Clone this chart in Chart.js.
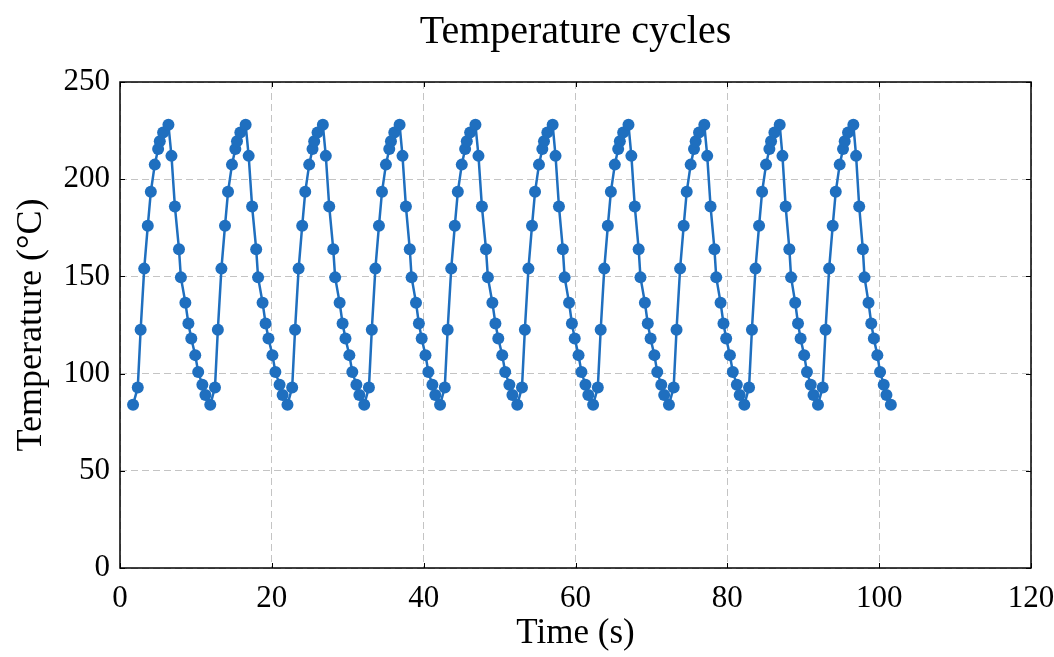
<!DOCTYPE html>
<html>
<head>
<meta charset="utf-8">
<title>Temperature cycles</title>
<script src="https://cdn.jsdelivr.net/npm/chart.js@4.4.1/dist/chart.umd.min.js"></script>
<style>
    html, body { margin: 0; padding: 0; background: #ffffff; }
    #wrap { width: 1054px; height: 657px; }
</style>
</head>
<body>
<div id="wrap"><canvas id="tempChart" width="1054" height="657"></canvas></div>
<script>
// sample times (s), one row per heating cycle
const timeS = [
    1.72, 2.34, 2.72, 3.19, 3.66, 4.06, 4.58, 5.02, 5.24, 5.68, 6.38, 6.78, 7.23, 7.77, 8.02, 8.61, 9.01, 9.39, 9.91, 10.3, 10.85, 11.25,
    11.89, 12.51, 12.89, 13.36, 13.83, 14.23, 14.75, 15.19, 15.41, 15.85, 16.55, 16.95, 17.4, 17.94, 18.19, 18.78, 19.18, 19.56, 20.08, 20.47, 21.02, 21.42,
    22.06, 22.68, 23.06, 23.53, 24.0, 24.4, 24.92, 25.36, 25.58, 26.02, 26.72, 27.11, 27.56, 28.09, 28.34, 28.93, 29.32, 29.7, 30.21, 30.6, 31.14, 31.53,
    32.17, 32.79, 33.17, 33.64, 34.11, 34.51, 35.03, 35.47, 35.69, 36.13, 36.83, 37.21, 37.66, 38.17, 38.41, 38.99, 39.37, 39.74, 40.24, 40.62, 41.15, 41.53,
    42.16, 42.78, 43.16, 43.63, 44.1, 44.5, 45.02, 45.46, 45.68, 46.12, 46.82, 47.22, 47.67, 48.21, 48.46, 49.05, 49.45, 49.83, 50.35, 50.74, 51.29, 51.69,
    52.33, 52.95, 53.33, 53.8, 54.27, 54.67, 55.19, 55.63, 55.85, 56.29, 56.99, 57.37, 57.82, 58.33, 58.57, 59.15, 59.53, 59.9, 60.4, 60.78, 61.31, 61.69,
    62.32, 62.94, 63.32, 63.79, 64.26, 64.66, 65.18, 65.62, 65.84, 66.28, 66.98, 67.36, 67.81, 68.32, 68.56, 69.14, 69.52, 69.89, 70.39, 70.77, 71.3, 71.68,
    72.31, 72.93, 73.31, 73.78, 74.25, 74.65, 75.17, 75.61, 75.83, 76.27, 76.97, 77.35, 77.79, 78.3, 78.54, 79.11, 79.49, 79.85, 80.34, 80.72, 81.25, 81.63,
    82.24, 82.86, 83.24, 83.71, 84.18, 84.58, 85.1, 85.54, 85.76, 86.2, 86.9, 87.26, 87.68, 88.17, 88.4, 88.94, 89.31, 89.65, 90.12, 90.49, 90.99, 91.35,
    91.94, 92.56, 92.94, 93.41, 93.88, 94.28, 94.8, 95.24, 95.46, 95.9, 96.6, 96.96, 97.37, 97.85, 98.07, 98.6, 98.96, 99.3, 99.76, 100.12, 100.6, 100.96,
    101.54
];

// measured temperature (°C) at each sample
const tempC = [
    84, 92.8, 122.6, 154, 176, 193.5, 207.5, 215.5, 219.5, 224, 228, 212, 186, 164, 149.5, 136.5, 125.8, 118, 109.5, 100.8, 94.3, 89,
    84, 92.8, 122.6, 154, 176, 193.5, 207.5, 215.5, 219.5, 224, 228, 212, 186, 164, 149.5, 136.5, 125.8, 118, 109.5, 100.8, 94.3, 89,
    84, 92.8, 122.6, 154, 176, 193.5, 207.5, 215.5, 219.5, 224, 228, 212, 186, 164, 149.5, 136.5, 125.8, 118, 109.5, 100.8, 94.3, 89,
    84, 92.8, 122.6, 154, 176, 193.5, 207.5, 215.5, 219.5, 224, 228, 212, 186, 164, 149.5, 136.5, 125.8, 118, 109.5, 100.8, 94.3, 89,
    84, 92.8, 122.6, 154, 176, 193.5, 207.5, 215.5, 219.5, 224, 228, 212, 186, 164, 149.5, 136.5, 125.8, 118, 109.5, 100.8, 94.3, 89,
    84, 92.8, 122.6, 154, 176, 193.5, 207.5, 215.5, 219.5, 224, 228, 212, 186, 164, 149.5, 136.5, 125.8, 118, 109.5, 100.8, 94.3, 89,
    84, 92.8, 122.6, 154, 176, 193.5, 207.5, 215.5, 219.5, 224, 228, 212, 186, 164, 149.5, 136.5, 125.8, 118, 109.5, 100.8, 94.3, 89,
    84, 92.8, 122.6, 154, 176, 193.5, 207.5, 215.5, 219.5, 224, 228, 212, 186, 164, 149.5, 136.5, 125.8, 118, 109.5, 100.8, 94.3, 89,
    84, 92.8, 122.6, 154, 176, 193.5, 207.5, 215.5, 219.5, 224, 228, 212, 186, 164, 149.5, 136.5, 125.8, 118, 109.5, 100.8, 94.3, 89,
    84, 92.8, 122.6, 154, 176, 193.5, 207.5, 215.5, 219.5, 224, 228, 212, 186, 164, 149.5, 136.5, 125.8, 118, 109.5, 100.8, 94.3, 89,
    84
];

// axis ranges and tick steps
const xRange = [0, 120];
const xStep = 20;
const yRange = [0, 250];
const yStep = 50;

const serif = "'Liberation Serif', 'Times New Roman', serif";
const lineBlue = '#1f6fbf';

// frame around the plot area plus short inward tick marks
const frameAndTicks = {
    id: 'frameAndTicks',
    beforeDatasetsDraw(chart) {
        const { ctx, chartArea: a, scales } = chart;
        ctx.save();
        ctx.strokeStyle = '#000000';
        ctx.lineWidth = 1;
        ctx.beginPath();
        scales.x.ticks.forEach(t => {
            const px = Math.round(scales.x.getPixelForValue(t.value)) + 0.5;
            ctx.moveTo(px, a.bottom);
            ctx.lineTo(px, a.bottom - 5);
            ctx.moveTo(px, a.top);
            ctx.lineTo(px, a.top + 5);
        });
        scales.y.ticks.forEach(t => {
            const py = Math.round(scales.y.getPixelForValue(t.value)) + 0.5;
            ctx.moveTo(a.left, py);
            ctx.lineTo(a.left + 5, py);
            ctx.moveTo(a.right, py);
            ctx.lineTo(a.right - 5, py);
        });
        ctx.stroke();
        ctx.lineWidth = 1.5;
        ctx.strokeRect(a.left, a.top, a.right - a.left, a.bottom - a.top);
        ctx.restore();
    }
};

document.addEventListener('DOMContentLoaded', function () {
    const canvas = document.getElementById('tempChart');
    const ctx = canvas.getContext('2d');

    const points = timeS.map((t, i) => ({ x: t, y: tempC[i] }));

    new Chart(ctx, {
        type: 'line',
        data: {
            datasets: [{
                label: 'Temperature',
                data: points,
                borderColor: lineBlue,
                backgroundColor: lineBlue,
                borderWidth: 2.5,
                pointRadius: 6,
                pointBorderWidth: 0,
                pointBackgroundColor: lineBlue,
                tension: 0,
                fill: false
            }]
        },
        options: {
            responsive: false,
            animation: false,
            layout: {
                padding: { left: 0, right: 23, top: 0, bottom: 0 }
            },
            scales: {
                x: {
                    type: 'linear',
                    min: xRange[0],
                    max: xRange[1],
                    afterFit(scale) {
                        // let the end labels hang past the plot edges
                        scale.height = 89;
                        scale.paddingLeft = 0;
                        scale.paddingRight = 0;
                    },
                    ticks: {
                        stepSize: xStep,
                        color: '#000000',
                        padding: 12,
                        font: { family: serif, size: 31 }
                    },
                    grid: {
                        color: '#c4c4c4',
                        lineWidth: 1,
                        drawTicks: false
                    },
                    border: { display: false, dash: [7, 4] },
                    title: {
                        display: true,
                        text: 'Time (s)',
                        color: '#000000',
                        padding: { top: 2, bottom: 2 },
                        font: { family: serif, size: 35 }
                    }
                },
                y: {
                    min: yRange[0],
                    max: yRange[1],
                    afterFit(scale) { scale.width = 120; },
                    ticks: {
                        stepSize: yStep,
                        color: '#000000',
                        padding: 10,
                        font: { family: serif, size: 31 }
                    },
                    grid: {
                        color: '#c4c4c4',
                        lineWidth: 1,
                        drawTicks: false
                    },
                    border: { display: false, dash: [7, 4] },
                    title: {
                        display: true,
                        text: 'Temperature (°C)',
                        color: '#000000',
                        padding: { top: 10, bottom: 10 },
                        font: { family: serif, size: 36 }
                    }
                }
            },
            plugins: {
                legend: { display: false },
                tooltip: { enabled: false },
                title: {
                    display: true,
                    fullSize: false,
                    text: 'Temperature cycles',
                    color: '#000000',
                    padding: { top: 8, bottom: 26 },
                    font: { family: serif, size: 40, weight: 'normal' }
                }
            }
        },
        plugins: [frameAndTicks]
    });
});
</script>
</body>
</html>
